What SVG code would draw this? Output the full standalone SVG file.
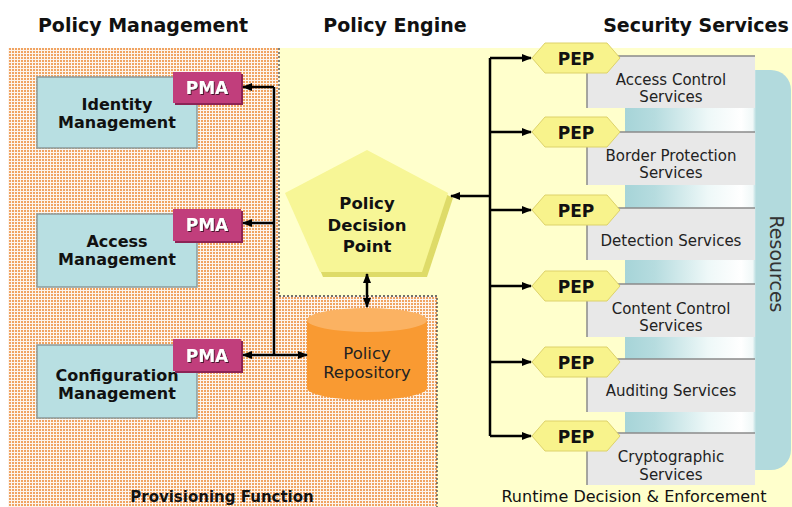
<svg xmlns="http://www.w3.org/2000/svg" width="792" height="507" viewBox="0 0 792 507">
<defs>
<pattern id="tex" x="0" y="0" width="3" height="3" patternUnits="userSpaceOnUse">
<rect width="3" height="3" fill="#fdf5ee"/>
<rect width="2" height="2" fill="#f0a462"/>
</pattern>
<linearGradient id="res" x1="0" y1="0" x2="1" y2="0">
<stop offset="0" stop-color="#a6d4d8"/>
<stop offset="0.18" stop-color="#b6dcdf"/>
<stop offset="0.5" stop-color="#eef8f8"/>
<stop offset="0.7" stop-color="#ffffff"/>
<stop offset="0.77" stop-color="#f0f8f8"/>
<stop offset="0.79" stop-color="#b2dadd"/>
<stop offset="1" stop-color="#b2dadd"/>
</linearGradient>
<marker id="ah" markerUnits="userSpaceOnUse" markerWidth="10" markerHeight="8" refX="9" refY="4" orient="auto-start-reverse">
<path d="M0,0 L10,4 L0,8 z" fill="#000"/>
</marker>
<filter id="sh" x="-20%" y="-20%" width="140%" height="140%">
<feDropShadow dx="1" dy="1" stdDeviation="0.4" flood-color="#3a0a20" flood-opacity="0.9"/>
</filter>
</defs>
<style>
.hdr{font-family:"DejaVu Sans",Verdana,sans-serif;font-weight:bold;font-size:19px;fill:#111;text-anchor:middle}
.mgmt{fill:#b8dfe2;stroke:#8a9a9c;stroke-width:1.5}
.mt{font-family:"DejaVu Sans",Verdana,sans-serif;font-weight:bold;font-size:16px;fill:#111;text-anchor:middle}
.pdt{font-family:"DejaVu Sans",Verdana,sans-serif;font-weight:bold;font-size:16.5px;fill:#111;text-anchor:middle}
.pma{fill:#c13e7c}
.pmat{font-family:"DejaVu Sans",Verdana,sans-serif;font-weight:bold;font-size:17px;fill:#fff;text-anchor:middle}
.pep{fill:#f8f38c;stroke:#ddd26a;stroke-width:1}
.pept{font-family:"DejaVu Sans",Verdana,sans-serif;font-weight:bold;font-size:17px;fill:#111;text-anchor:middle}
.svc{fill:#e8e8e8}
.svcl{stroke:#8a8a8a;stroke-width:1.5;fill:none}
.st{font-family:"DejaVu Sans",Verdana,sans-serif;font-size:15px;fill:#222;text-anchor:middle}
.conn{stroke:#000;stroke-width:2.5;fill:none}
.dash{stroke:#444;stroke-width:1.3;stroke-dasharray:2,2;fill:none}
</style>

<!-- backgrounds -->
<rect x="279" y="48" width="513" height="459" fill="#ffffcc"/>
<path d="M8,48 H279 V296 H437 V507 H8 Z" fill="url(#tex)"/>
<path class="dash" d="M279,48 V296 H437 V507"/>
<rect x="625" y="70" width="166" height="400" rx="20" fill="url(#res)"/>
<text x="770" y="264" transform="rotate(90 770 264)" font-family="DejaVu Sans, Verdana, sans-serif" font-size="19" fill="#333" text-anchor="middle">Resources</text>

<!-- headers -->
<text class="hdr" x="143" y="32">Policy Management</text>
<text class="hdr" x="395" y="32">Policy Engine</text>
<text class="hdr" x="696" y="32">Security Services</text>

<!-- management nodes -->
<g id="identity-management">
<rect class="mgmt" x="37" y="77" width="160" height="71"/>
<text class="mt" x="117" y="110">Identity</text>
<text class="mt" x="117" y="128">Management</text>
</g>
<g id="pma-identity">
<rect x="175" y="74" width="68" height="31" fill="#8c2456"/>
<rect class="pma" x="173" y="72" width="68" height="31"/>
<text class="pmat" x="207" y="94" filter="url(#sh)">PMA</text>
</g>
<g id="access-management">
<rect class="mgmt" x="37" y="214" width="160" height="73"/>
<text class="mt" x="117" y="247">Access</text>
<text class="mt" x="117" y="265">Management</text>
</g>
<g id="pma-access">
<rect x="175" y="211" width="68" height="32" fill="#8c2456"/>
<rect class="pma" x="173" y="209" width="68" height="32"/>
<text class="pmat" x="207" y="231" filter="url(#sh)">PMA</text>
</g>
<g id="configuration-management">
<rect class="mgmt" x="37" y="345" width="160" height="73"/>
<text class="mt" x="117" y="381">Configuration</text>
<text class="mt" x="117" y="399">Management</text>
</g>
<g id="pma-configuration">
<rect x="175" y="341" width="68" height="32" fill="#8c2456"/>
<rect class="pma" x="173" y="339" width="68" height="32"/>
<text class="pmat" x="207" y="362" filter="url(#sh)">PMA</text>
</g>

<!-- policy engine -->
<g id="policy-decision-point">
<polygon points="372,154 453,198 427,277 323,277 290,198" fill="#dedb68"/>
<polygon points="367,150 448,193 422,272 320,272 285,193" fill="#f7f696"/>
<text class="pdt" x="367" y="209">Policy</text>
<text class="pdt" x="367" y="231">Decision</text>
<text class="pdt" x="367" y="252">Point</text>
</g>
<g id="policy-repository">
<path d="M307,320 V388 A60,12 0 0 0 427,388 V320 Z" fill="#f99a32"/>
<ellipse cx="367" cy="320" rx="60" ry="12" fill="#fbb262"/>
<text x="367" y="359" font-family="DejaVu Sans, Verdana, sans-serif" font-size="16.5" fill="#222" text-anchor="middle">Policy</text>
<text x="367" y="378" font-family="DejaVu Sans, Verdana, sans-serif" font-size="16.5" fill="#222" text-anchor="middle">Repository</text>
</g>

<!-- security services -->
<g id="svc-access-control">
<rect class="svc" x="587" y="56" width="168" height="52"/>
<path class="svcl" d="M587,108 V56 H755"/>
<text class="st" x="671" y="85">Access Control</text>
<text class="st" x="671" y="102">Services</text>
</g>
<g id="svc-border-protection">
<rect class="svc" x="587" y="132" width="168" height="53"/>
<path class="svcl" d="M587,185 V132 H755"/>
<text class="st" x="671" y="161">Border Protection</text>
<text class="st" x="671" y="178">Services</text>
</g>
<g id="svc-detection">
<rect class="svc" x="587" y="208" width="168" height="52"/>
<path class="svcl" d="M587,260 V208 H755"/>
<text class="st" x="671" y="246">Detection Services</text>
</g>
<g id="svc-content-control">
<rect class="svc" x="587" y="284" width="168" height="53"/>
<path class="svcl" d="M587,337 V284 H755"/>
<text class="st" x="671" y="314">Content Control</text>
<text class="st" x="671" y="331">Services</text>
</g>
<g id="svc-auditing">
<rect class="svc" x="587" y="359" width="168" height="53"/>
<path class="svcl" d="M587,412 V359 H755"/>
<text class="st" x="671" y="396">Auditing Services</text>
</g>
<g id="svc-cryptographic">
<rect class="svc" x="587" y="433" width="168" height="52"/>
<path class="svcl" d="M587,485 V433 H755"/>
<text class="st" x="671" y="462">Cryptographic</text>
<text class="st" x="671" y="480">Services</text>
</g>

<!-- PEPs -->
<g id="pep-1"><polygon class="pep" points="532,58 545,43 607,43 620,58 607,73 545,73"/><text class="pept" x="576" y="65">PEP</text></g>
<g id="pep-2"><polygon class="pep" points="532,132 545,117 607,117 620,132 607,147 545,147"/><text class="pept" x="576" y="139">PEP</text></g>
<g id="pep-3"><polygon class="pep" points="532,210 545,195 607,195 620,210 607,225 545,225"/><text class="pept" x="576" y="217">PEP</text></g>
<g id="pep-4"><polygon class="pep" points="532,286 545,271 607,271 620,286 607,301 545,301"/><text class="pept" x="576" y="293">PEP</text></g>
<g id="pep-5"><polygon class="pep" points="532,362 545,347 607,347 620,362 607,377 545,377"/><text class="pept" x="576" y="369">PEP</text></g>
<g id="pep-6"><polygon class="pep" points="532,436 545,421 607,421 620,436 607,451 545,451"/><text class="pept" x="576" y="443">PEP</text></g>

<!-- connectors -->
<g id="connectors">
<path class="conn" d="M274,87 V355"/>
<path class="conn" d="M274,87 H243" marker-end="url(#ah)"/>
<path class="conn" d="M274,223 H243" marker-end="url(#ah)"/>
<path class="conn" d="M243,355 H307" marker-start="url(#ah)" marker-end="url(#ah)"/>
<path class="conn" d="M367,274 V307" marker-start="url(#ah)" marker-end="url(#ah)"/>
<path class="conn" d="M490,58 V436"/>
<path class="conn" d="M490,196 H451" marker-end="url(#ah)"/>
<path class="conn" d="M490,58 H531" marker-end="url(#ah)"/>
<path class="conn" d="M490,132 H531" marker-end="url(#ah)"/>
<path class="conn" d="M490,210 H531" marker-end="url(#ah)"/>
<path class="conn" d="M490,286 H531" marker-end="url(#ah)"/>
<path class="conn" d="M490,362 H531" marker-end="url(#ah)"/>
<path class="conn" d="M490,436 H531" marker-end="url(#ah)"/>
</g>

<!-- bottom labels -->
<text x="222" y="502" font-family="DejaVu Sans, Verdana, sans-serif" font-weight="bold" font-size="15" fill="#111" text-anchor="middle">Provisioning Function</text>
<text x="634" y="502" font-family="DejaVu Sans, Verdana, sans-serif" font-size="16" fill="#111" text-anchor="middle">Runtime Decision &amp; Enforcement</text>
</svg>
